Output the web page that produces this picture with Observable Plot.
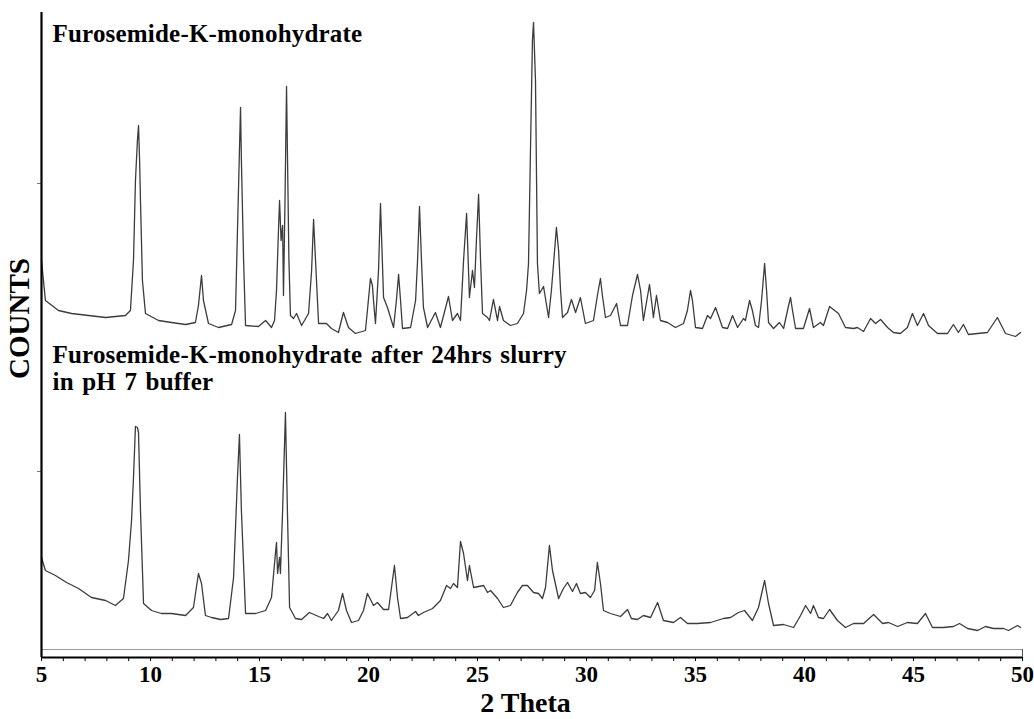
<!DOCTYPE html>
<html>
<head>
<meta charset="utf-8">
<script src="https://cdn.jsdelivr.net/npm/d3@7"></script>
<script src="https://cdn.jsdelivr.net/npm/@observablehq/plot@0.6"></script>
<style>
  html, body { margin: 0; padding: 0; background: #fff; }
  #chart svg { display: block; }
</style>
</head>
<body>
<div id="chart"></div>
<script>
// ---- Data (intensities in arbitrary counts) ----
const seriesNames = ["Furosemide-K-monohydrate", "Furosemide-K-monohydrate after 24hrs slurry\nin pH 7 buffer"];

const thetaTop = [5.00,5.09,5.18,5.78,6.38,7.16,7.94,8.85,9.08,9.22,9.31,9.40,9.45,9.50,9.54,9.63,9.77,10.37,10.96,11.61,12.06,12.20,12.34,12.43,12.66,13.12,13.72,13.90,13.99,14.08,14.13,14.17,14.27,14.36,14.95,15.28,15.55,15.69,15.78,15.87,15.92,15.99,16.06,16.10,16.17,16.24,16.28,16.35,16.42,16.56,16.70,16.93,17.25,17.39,17.48,17.57,17.71,18.07,18.30,18.62,18.85,19.08,19.40,19.86,19.95,20.09,20.18,20.23,20.32,20.46,20.55,20.69,20.87,21.15,21.28,21.38,21.47,21.56,21.93,22.16,22.25,22.34,22.43,22.52,22.71,23.07,23.30,23.67,23.85,24.08,24.22,24.36,24.50,24.63,24.77,24.86,24.95,25.05,25.14,25.23,25.46,25.55,25.73,25.92,26.01,26.19,26.51,26.83,27.11,27.25,27.34,27.43,27.52,27.57,27.66,27.75,27.84,28.03,28.26,28.39,28.49,28.62,28.72,28.81,28.90,29.13,29.31,29.50,29.72,29.95,30.32,30.50,30.64,30.73,30.87,31.10,31.38,31.56,31.88,32.11,32.34,32.48,32.61,32.89,32.98,33.07,33.21,33.39,33.72,34.08,34.45,34.63,34.77,34.86,35.00,35.32,35.55,35.69,35.92,36.24,36.47,36.70,36.93,37.20,37.29,37.48,37.61,37.75,37.89,38.03,38.17,38.26,38.35,38.58,38.85,39.04,39.27,39.36,39.45,39.59,39.95,40.23,40.41,40.73,40.87,41.15,41.56,41.88,42.25,42.43,42.71,43.03,43.26,43.49,43.81,44.08,44.40,44.72,44.95,45.18,45.46,45.69,46.10,46.56,46.83,47.06,47.29,47.52,47.94,48.39,48.85,49.22,49.68,49.91];
const countsTop = [389,369,349,339,336,334,332,334,339,389,469,509,524,489,449,369,336,329,327,325,327,344,374,349,326,322,325,339,419,499,542,489,389,324,323,329,322,329,359,419,449,409,424,354,449,563,499,389,334,331,336,324,336,379,430,389,326,326,321,317,337,322,316,319,339,371,364,349,326,379,446,352,342,322,349,375,349,321,322,349,389,443,389,342,322,337,322,353,329,336,329,389,436,352,379,362,409,455,389,336,332,329,350,329,343,329,324,326,336,359,386,499,609,627,569,386,356,363,332,359,386,422,399,359,332,337,350,337,352,326,329,354,371,354,332,334,346,324,324,354,375,359,329,365,349,332,354,329,327,322,326,339,359,349,322,321,334,331,342,322,321,334,322,331,329,349,339,324,322,349,386,359,327,321,327,321,344,352,339,321,321,341,322,327,324,343,336,322,321,322,318,331,326,330,322,317,316,322,336,324,336,324,316,316,325,317,325,315,316,317,332,316,313,317];

const thetaBottom = [5.00,5.18,5.64,6.15,6.70,7.29,7.94,8.39,8.76,8.99,9.13,9.22,9.31,9.40,9.45,9.54,9.68,10.05,10.50,10.96,11.61,11.97,12.20,12.34,12.52,12.80,13.21,13.58,13.81,13.99,14.08,14.17,14.36,14.82,15.28,15.55,15.73,15.78,15.83,15.92,15.96,16.06,16.19,16.28,16.38,16.65,16.93,17.29,17.71,17.94,18.12,18.30,18.62,18.81,18.99,19.22,19.54,19.77,19.95,20.23,20.41,20.69,20.92,21.19,21.33,21.47,21.79,22.16,22.29,22.52,22.94,23.30,23.58,23.76,23.90,24.08,24.22,24.36,24.54,24.63,24.82,25.28,25.46,25.60,25.92,26.19,26.51,26.83,27.06,27.29,27.57,27.80,27.98,28.12,28.30,28.44,28.72,28.94,29.13,29.36,29.54,29.72,29.95,30.18,30.37,30.50,30.64,30.78,31.10,31.56,31.88,32.06,32.34,32.61,32.94,33.26,33.53,33.99,34.31,34.63,35.09,35.69,36.28,36.61,36.97,37.25,37.61,37.89,38.17,38.35,38.58,39.04,39.50,39.82,40.05,40.28,40.41,40.64,40.87,41.15,41.51,41.88,42.25,42.71,43.17,43.58,43.85,44.27,44.72,45.18,45.55,45.87,46.38,46.83,47.11,47.48,47.94,48.30,48.67,49.13,49.36,49.77,49.91];
const countsBottom = [92,79,74,67,61,52,49,44,51,89,129,172,223,222,217,139,46,39,36,36,34,42,76,66,34,32,30,31,72,172,215,139,36,36,39,52,96,107,76,92,76,139,237,139,42,31,30,37,33,31,36,29,39,56,39,27,29,39,56,44,47,40,40,84,52,31,32,38,34,37,41,49,64,61,66,62,108,96,69,84,62,64,57,59,51,42,44,57,64,64,57,56,51,62,104,79,51,61,67,58,66,56,57,52,59,87,66,39,36,33,40,31,30,34,32,47,29,27,32,26,26,27,31,32,37,39,29,42,69,46,24,25,22,34,44,36,44,32,31,40,29,22,26,26,35,26,27,23,27,26,36,22,22,23,26,21,19,23,21,21,19,24,22];

const xTicks = d3.range(5, 51, 1);
const xTickLabels = [5, 10, 15, 20, 25, 30, 35, 40, 45, 50];
const yTicks = [178, 466];

// ---- Build tables ----
const topData = thetaTop.map((t, i) => ({theta: t, counts: countsTop[i]}));
const bottomData = thetaBottom.map((t, i) => ({theta: t, counts: countsBottom[i]}));

const serif = "'Liberation Serif', 'Times New Roman', serif";

const chart = Plot.plot({
  width: 1034,
  height: 719,
  marginLeft: 41,
  marginRight: 12,
  marginTop: 12,
  marginBottom: 62,
  style: {fontFamily: serif, background: "#fff", color: "#000", overflow: "visible"},
  x: {domain: [5, 50]},
  y: {domain: [-8, 637]},
  marks: [
    Plot.ruleY([0], {stroke: "#9a9a9a", strokeWidth: 1}),
    Plot.ruleX([50], {y1: -8, y2: 0, stroke: "#555", strokeWidth: 1}),
    Plot.line(topData, {x: "theta", y: "counts", stroke: "#3c3c3c", strokeWidth: 1.3, curve: "linear"}),
    Plot.line(bottomData, {x: "theta", y: "counts", stroke: "#3c3c3c", strokeWidth: 1.3, curve: "linear"}),
    Plot.axisX({
      ticks: xTicks,
      tickSize: 4,
      tickPadding: 4,
      tickFormat: d => xTickLabels.includes(d) ? String(d) : "",
      fontSize: 23,
      fontWeight: "bold",
      label: null,
      stroke: "#000"
    }),
    Plot.axisY({ticks: yTicks, tickSize: 4, tickFormat: () => "", label: null, stroke: "#777"}),
    Plot.ruleY([-8], {stroke: "#000", strokeWidth: 2.2}),
    Plot.ruleX([5], {y1: -8, y2: 637, stroke: "#000", strokeWidth: 2.2}),
    Plot.text([seriesNames[0]], {
      frameAnchor: "top-left", dx: 11, dy: 12, lineAnchor: "top",
      textAnchor: "start", fontSize: 25, fontWeight: "bold", fill: "#000",
      className: "title-top"
    }),
    Plot.text([seriesNames[1]], {
      frameAnchor: "top-left", dx: 11, dy: 331, lineAnchor: "top", lineHeight: 1.08,
      textAnchor: "start", fontSize: 25, fontWeight: "bold", fill: "#000",
      className: "title-bottom"
    }),
    Plot.text(["2 Theta"], {
      x: 27.2, frameAnchor: "bottom", dy: 54, textAnchor: "middle",
      fontSize: 28, fontWeight: "bold", fill: "#000"
    }),
    Plot.text(["COUNTS"], {
      x: 5, y: 331, dx: -22, rotate: -90, textAnchor: "middle",
      fontSize: 29, fontWeight: "bold", fill: "#000"
    })
  ]
});

// slightly looser typesetting, as in the reference
d3.select(chart).selectAll("g.title-top text, g.title-bottom text").style("word-spacing", "2px").style("letter-spacing", "0.2px");

document.getElementById("chart").appendChild(chart);
</script>
</body>
</html>
